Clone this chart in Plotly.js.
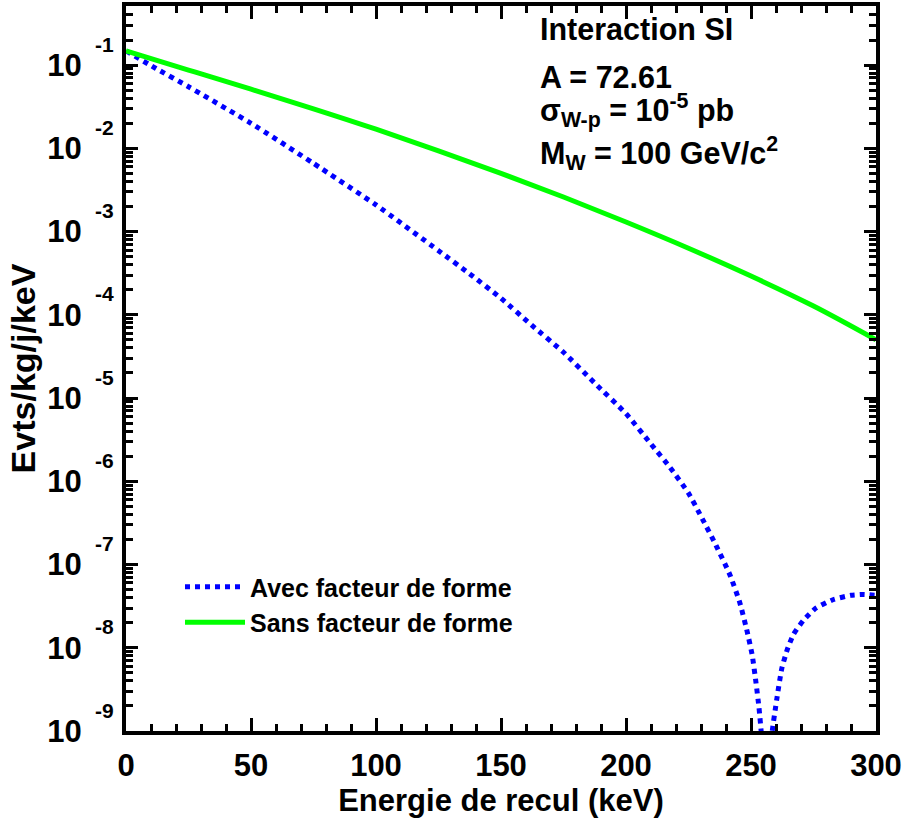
<!DOCTYPE html>
<html>
<head>
<meta charset="utf-8">
<script src="https://cdn.plot.ly/plotly-3.0.1.min.js"></script>
<style>html,body{margin:0;padding:0;background:#fff;}#chart{width:908px;height:825px;}</style>
</head>
<body>
<div id="chart"></div>
<script>
// Energie de recul (keV)
const sansE = [0, 25, 50, 75, 100, 125, 150, 175, 200, 225, 250, 275, 300];
// Evts/kg/j/keV sans facteur de forme
const sansV = [1.479e-1, 8.71e-2, 5.13e-2, 2.985e-2, 1.698e-2, 9.33e-3, 5.01e-3, 2.60e-3, 1.303e-3, 6.31e-4, 2.92e-4, 1.274e-4, 5.01e-5];

const avecE = [0, 12, 25, 50, 75, 100, 125, 137.5, 150, 162.5, 175, 187.5, 200, 210, 217.5, 225, 230, 236, 241.5, 245.5, 248.5, 250.5, 252, 253.2, 254.2, 255.2, 256.2, 257.2, 258.3, 260.3, 262.3, 264.5, 267, 271, 276, 283, 290, 295, 300];
const avecV = [1.479e-1, 9.1e-2, 5.5e-2, 2.0e-2, 6.6e-3, 2.09e-3, 5.9e-4, 3.1e-4, 1.58e-4, 7.4e-5, 3.55e-5, 1.51e-5, 6.5e-6, 2.8e-6, 1.48e-6, 7.2e-7, 3.8e-7, 1.70e-7, 7.6e-8, 3.5e-8, 1.55e-8, 8.1e-9, 3.8e-9, 1.9e-9, 8.9e-10, 3.2e-10, 2.5e-11, 2.5e-10, 8.9e-10, 2.4e-9, 5.6e-9, 9.5e-9, 1.45e-8, 2.14e-8, 3.0e-8, 3.8e-8, 4.27e-8, 4.37e-8, 4.27e-8];

const seriesNames = ['Avec facteur de forme', 'Sans facteur de forme'];

const xTickVals = [0, 50, 100, 150, 200, 250, 300];
const yTickVals = [1e-9, 1e-8, 1e-7, 1e-6, 1e-5, 1e-4, 1e-3, 1e-2, 1e-1];
const yTickBase = ['10', '10', '10', '10', '10', '10', '10', '10', '10'];
const yTickExp = ['-9', '-8', '-7', '-6', '-5', '-4', '-3', '-2', '-1'];

const infoLines = ['Interaction SI', 'A = 72.61', 'σ<sub>W-p</sub> = 10<sup>-5</sup> pb', 'M<sub>W</sub> = 100 GeV/c<sup>2</sup>'];

const FONT = 'Liberation Sans, Arial, Helvetica, sans-serif';

const traces = [
  {x: avecE, y: avecV, name: seriesNames[0], type: 'scatter', mode: 'lines',
   line: {color: '#0000ff', width: 5, dash: '5px,5px', shape: 'spline', smoothing: 0.5}},
  {x: sansE, y: sansV, name: seriesNames[1], type: 'scatter', mode: 'lines',
   line: {color: '#00ff00', width: 5, shape: 'spline'}}
];

const annotations = [];
yTickVals.forEach((v, i) => {
  annotations.push({xref: 'paper', yref: 'y', x: 0, y: Math.log10(v), text: yTickExp[i],
    showarrow: false, xanchor: 'right', yanchor: 'middle', xshift: -10, yshift: 21,
    font: {family: FONT, size: 21, weight: 'bold', color: '#000'}});
});
const infoY = [29, 77, 110, 153];
infoLines.forEach((t, i) => {
  annotations.push({xref: 'paper', yref: 'paper', x: (538 - 126) / 750, y: 1 - (infoY[i] - 6) / 725, text: t,
    showarrow: false, xanchor: 'left', yanchor: 'middle',
    font: {family: FONT, size: 30.5, weight: 'bold', color: '#000'}});
});

const layout = {
  width: 908, height: 825,
  margin: {l: 126, r: 32, t: 6, b: 94},
  paper_bgcolor: '#fff', plot_bgcolor: '#fff',
  showlegend: true,
  legend: {x: (180 - 126) / 750, y: 1 - (564 - 6) / 725, xanchor: 'left', yanchor: 'top',
    itemwidth: 60, tracegroupgap: 0,
    bgcolor: 'rgba(0,0,0,0)', font: {family: FONT, size: 25, weight: 'bold', color: '#000'}},
  xaxis: {
    range: [0, 300], tickvals: xTickVals, ticks: 'inside', ticklen: 13, tickwidth: 3, tickcolor: '#000',
    showline: true, linewidth: 4, linecolor: '#000', mirror: 'allticks', showgrid: false, zeroline: false,
    minor: {dtick: 10, tick0: 0, ticks: 'inside', ticklen: 7, tickwidth: 3, tickcolor: '#000', showgrid: false},
    tickfont: {family: FONT, size: 31, weight: 'bold', color: '#000'},
    ticklabelstandoff: 4,
    title: {text: 'Energie de recul (keV)', font: {family: FONT, size: 31, weight: 'bold', color: '#000'}, standoff: 6}
  },
  yaxis: {
    type: 'log', range: [-9, -0.29], tickvals: yTickVals, ticktext: yTickBase, ticks: 'inside', ticklen: 12, tickwidth: 3, tickcolor: '#000',
    showline: true, linewidth: 4, linecolor: '#000', mirror: 'allticks', showgrid: false, zeroline: false,
    minor: {dtick: 'D1', ticks: 'inside', ticklen: 7, tickwidth: 3, tickcolor: '#000', showgrid: false},
    tickfont: {family: FONT, size: 31, weight: 'bold', color: '#000'},
    ticklabelstandoff: 34,
    title: {text: 'Evts/kg/j/keV', font: {family: FONT, size: 34, weight: 'bold', color: '#000'}, standoff: 2}
  },
  annotations: annotations
};

Plotly.newPlot('chart', traces, layout, {staticPlot: true, displayModeBar: false});
</script>
</body>
</html>
